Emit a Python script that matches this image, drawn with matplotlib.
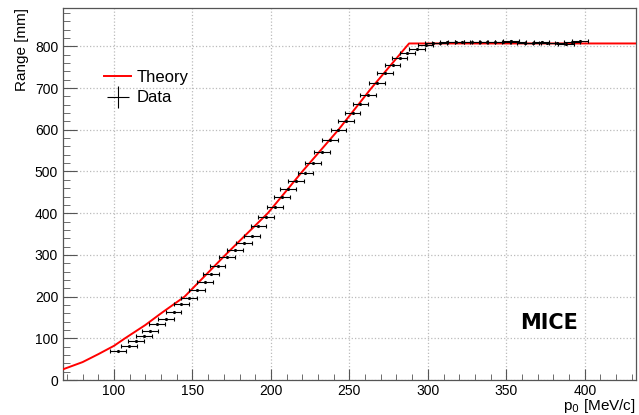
import numpy as np
import matplotlib.pyplot as plt
from matplotlib.lines import Line2D

# theory curve (range vs momentum)
theory_p = [67, 80, 90, 100, 107, 120, 130, 145, 158, 171, 185, 198, 220, 243, 264, 288, 433]
theory_r = [25, 43, 62, 82, 100, 132, 160, 200, 250, 300, 352, 400, 500, 600, 700, 807, 807]

# measured points
data_p = [102.5, 109.5, 114, 119, 123, 127.5, 133, 138, 143, 148, 153, 158, 162,
          166, 172, 177, 183, 188, 192, 197, 202.5, 207, 211, 216, 222, 227, 232.5,
          237.5, 243, 248, 252, 257, 262, 267.5, 272.5, 277.5, 282, 287, 293, 298.5,
          303, 307.5, 312.5, 318, 322, 328, 333, 337.5, 342.5, 348, 353, 357.5,
          362, 367, 372.5, 376, 382, 388, 392, 397]
data_r = [70, 82, 94, 105, 117, 134, 146, 163, 182, 197, 216, 236, 255,
          273, 295, 312, 329, 345, 369, 391, 415, 439, 458, 477, 496, 520, 547,
          575, 600, 621, 640, 662, 683, 712, 736, 755, 772, 784, 794, 803,
          808, 809, 810, 810, 811, 810, 810, 811, 810, 810, 812, 810,
          808, 808, 810, 809, 808, 806, 810, 813]
data_perr = 5

plt.rcParams['font.family'] = ['Liberation Sans', 'DejaVu Sans']

fig = plt.figure(figsize=(6.39, 4.15), dpi=100)
ax = fig.add_axes([0.0986, 0.0843, 0.8964, 0.8964])

ax.plot(theory_p, theory_r, color='red', lw=1.4, zorder=3)
ax.errorbar(data_p, data_r, xerr=data_perr, fmt='.', color='black', ms=2.5,
            elinewidth=0.8, capsize=1.5, capthick=0.8, zorder=4)

ax.set_xlim(67.5, 432.5)
ax.set_ylim(0, 892)
ax.set_xticks([100, 150, 200, 250, 300, 350, 400])
ax.set_xticks(np.arange(70, 433, 10), minor=True)
ax.set_yticks(np.arange(0, 801, 100))
ax.set_yticks(np.arange(0, 892, 20), minor=True)
ax.grid(True, which='major', color='#bbbbbb', linestyle=':', linewidth=0.9)
ax.tick_params(axis='both', which='both', direction='in', labelsize=10,
               top=False, right=False, color='#555555')
ax.tick_params(axis='y', which='major', length=10)
ax.tick_params(axis='y', which='minor', length=5)
ax.tick_params(axis='x', which='major', length=8)
ax.tick_params(axis='x', which='minor', length=4)
ax.tick_params(axis='x', pad=3)
for s in ax.spines.values():
    s.set_color('#555555')
    s.set_linewidth(0.9)

ax.set_ylabel('Range [mm]', fontsize=11, loc='top', labelpad=4)
ax.set_xlabel('p$_{0}$ [MeV/c]', fontsize=11, ha='right')
ax.xaxis.set_label_coords(1.0, -0.046)

ax.text(377, 137, 'MICE', fontsize=15, fontweight='bold', ha='center', va='center',
        family='DejaVu Sans')

handles = [Line2D([], [], color='red', lw=1.4),
           Line2D([], [], color='black', lw=0, marker='+', ms=16, mew=0.8)]
ax.legend(handles, ['Theory', 'Data'], loc='upper left', bbox_to_anchor=(0.046, 0.875),
          frameon=False, fontsize=12, handlelength=1.6, handletextpad=0.35,
          labelspacing=0.35)

fig.savefig('out.png', dpi=100)
